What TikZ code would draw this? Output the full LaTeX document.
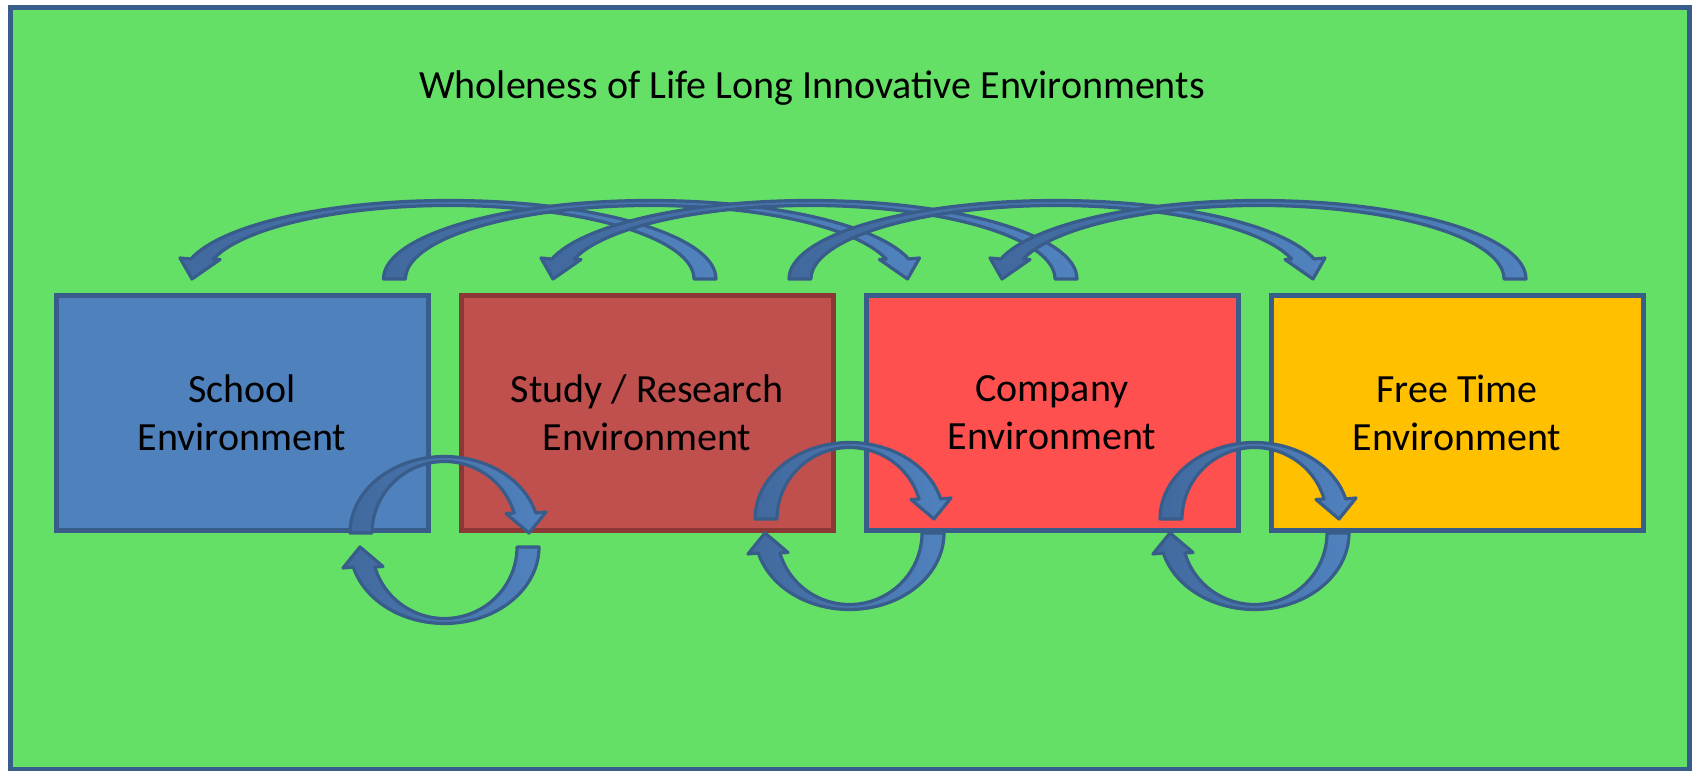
\documentclass[tikz,border=0pt]{standalone}
\usepackage{fontspec}
\setmainfont{Carlito}
\usetikzlibrary{positioning,calc}

\definecolor{lawn}{HTML}{64E066}
\definecolor{edgeblue}{HTML}{385D8A}
\definecolor{schoolblue}{HTML}{4F81BD}
\definecolor{studyred}{HTML}{C0504D}
\definecolor{studyedge}{HTML}{8C3836}
\definecolor{companyred}{HTML}{FF5050}
\definecolor{freeorange}{HTML}{FFC000}
\definecolor{swoopdark}{HTML}{41699E}
\definecolor{swooplight}{HTML}{5082BE}

\tikzset{
  envbox/.style={draw=edgeblue,line width=2.5pt,minimum width=186pt,minimum height=117.5pt,align=center,font=\fontsize{20}{24}\selectfont},
  swoopband/.style={draw=edgeblue,line width=1.6pt,line join=round,left color=swoopdark,right color=swooplight},
  % #1 half span, #2 height, #3/#4 outer and inner barb
  pics/swoop/.style n args={4}{code={
    \path[swoopband] (-#1-11,0)
      arc[start angle=180,end angle={asin(20/(#2+2.5))},x radius=#1+11,y radius=#2+2.5]
      -- (#1+#3,21) -- (#1+1,0) -- (#1-#4,19.5)
      -- ({(#1-11)*cos(asin(20/(#2-2.5)))},20)
      arc[start angle={asin(20/(#2-2.5))},end angle=180,x radius=#1-11,y radius=#2-2.5]
      -- cycle;
  }}
}

\begin{document}
\begin{tikzpicture}[x=0.5pt,y=0.5pt]
\useasboundingbox[fill=white] (0,0) rectangle (1694,771);
\draw[fill=lawn,draw=edgeblue,line width=2.5pt] (10,1) rectangle (1689,763.5);
\node[font=\fontsize{20}{24}\selectfont,anchor=base] (title) at (812,672) {Wholeness of Life Long Innovative Environments};

% the four environments
\node[envbox,fill=schoolblue] (school) at (242,358) {School\\Environment};
\node[envbox,fill=studyred,draw=studyedge,right=14pt of school] (study) {Study / Research\\Environment};
\node[envbox,fill=companyred,right=14pt of study] (company) {Company\\Environment};
\node[envbox,fill=freeorange,right=14pt of company] (free) {Free Time\\Environment};

% arcs over the boxes
\pic[xscale=-1] at (449,492) {swoop={256}{76}{13}{27}};
\pic at (650.5,492) {swoop={256}{76}{13}{27}};
\pic[xscale=-1] at (810,492) {swoop={256}{76}{13}{27}};
\pic at (1056,492) {swoop={256}{76}{13}{27}};
\pic[xscale=-1] at (1259,492) {swoop={256}{76}{13}{27}};

% loops between neighbours
\coordinate (gapA) at ($(school.south east)!.5!(study.south west)$);
\coordinate (gapB) at ($(study.south east)!.5!(company.south west)$);
\coordinate (gapC) at ($(company.south east)!.5!(free.south west)$);
\pic at (gapA) {swoop={83.5}{74}{18}{22}};
\pic[rotate=180] at ($(gapA)+(0,-14)$) {swoop={83.5}{74}{18}{22}};
\foreach \g in {gapB,gapC}{
  \pic at ($(\g)+(0,14)$) {swoop={83.5}{74}{18}{22}};
  \pic[rotate=180] at (\g) {swoop={83.5}{74}{18}{22}};
}
\end{tikzpicture}
\end{document}
